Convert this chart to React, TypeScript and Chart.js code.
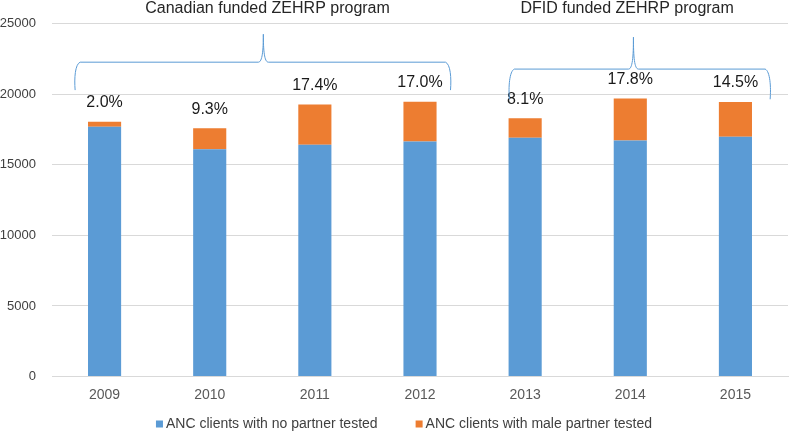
import React, { useEffect, useRef } from "react";
import { Chart, registerables } from "chart.js";

Chart.register(...registerables);

const years = ["2009", "2010", "2011", "2012", "2013", "2014", "2015"];
const noPartner = [17700, 16100, 16420, 16650, 16930, 16720, 17000];
const malePartner = [355, 1500, 2860, 2830, 1370, 2980, 2465];
const seriesNames = ["ANC clients with no partner tested", "ANC clients with male partner tested"];
const seriesColors = ["#5B9BD5", "#ED7D31"];
const yTicks = [0, 5000, 10000, 15000, 20000, 25000];

// Program brackets: [label, first category, last category]
const programs: [string, number, number][] = [
  ["Canadian funded ZEHRP program", 0, 3],
  ["DFID funded ZEHRP program", 4, 6],
];

const FONT = "'Liberation Sans', Arial, sans-serif";

const annotations = {
  id: "annotations",
  afterDatasetsDraw(chart: any) {
    const { ctx, scales } = chart;
    const x = scales.x;
    const y = scales.y;
    const step = x.getPixelForValue(1) - x.getPixelForValue(0);
    ctx.save();
    // percentage labels
    ctx.font = `16px ${FONT}`;
    ctx.fillStyle = "#1a1a1a";
    ctx.textAlign = "center";
    ctx.textBaseline = "middle";
    for (let i = 0; i < years.length; i++) {
      const pct = ((malePartner[i] / noPartner[i]) * 100).toFixed(1) + "%";
      const px = x.getPixelForValue(i);
      const py = y.getPixelForValue(noPartner[i] + malePartner[i]) - 19;
      ctx.fillText(pct, px, py);
    }
    // braces and titles
    const braceDefs = [
      { l: -0.28, r: 0.29, m: 1.51, yH: 22280, yE: 20300, yT: 24260, t: 1.55 },
      { l: -0.15, r: 0.33, m: 1.03, yH: 21790, yE: 19650, yT: 24050, t: 0.97 },
    ];
    programs.forEach(([label, a, b], k) => {
      const d = braceDefs[k];
      const x0 = x.getPixelForValue(a) + d.l * step;
      const x1 = x.getPixelForValue(b) + d.r * step;
      const xm = x.getPixelForValue(a) + d.m * step;
      const yH = y.getPixelForValue(d.yH);
      const yE = y.getPixelForValue(d.yE);
      const yT = y.getPixelForValue(d.yT);
      const r = 5;
      ctx.beginPath();
      ctx.strokeStyle = "#5B9BD5";
      ctx.lineWidth = 1;
      ctx.moveTo(x0, yE);
      ctx.bezierCurveTo(x0 - 1, yE - 12, x0, yH + 2, x0 + r, yH);
      ctx.lineTo(xm - r, yH);
      ctx.bezierCurveTo(xm - 1, yH, xm, yH - 12, xm, yT);
      ctx.bezierCurveTo(xm, yH - 12, xm + 1, yH, xm + r, yH);
      ctx.lineTo(x1 - r, yH);
      ctx.bezierCurveTo(x1, yH + 2, x1 + 1, yE - 12, x1, yE);
      ctx.stroke();
      ctx.font = `16px ${FONT}`;
      ctx.fillStyle = "#262626";
      ctx.fillText(label, x.getPixelForValue(a) + d.t * step, 9);
    });
    // legend
    ctx.font = `14px ${FONT}`;
    ctx.textAlign = "left";
    const box = 7, gap = 3, sep = 38;
    const widths = chart.data.datasets.map((ds: any) => box + gap + ctx.measureText(ds.label).width);
    const total = widths.reduce((s: number, w: number) => s + w, 0) + sep * (widths.length - 1);
    let lx = chart.width / 2 + 7 - total / 2;
    const ly = chart.height - 8;
    chart.data.datasets.forEach((ds: any, i: number) => {
      ctx.fillStyle = ds.backgroundColor;
      ctx.fillRect(lx, ly - box / 2, box, box);
      ctx.fillStyle = "#404040";
      ctx.fillText(ds.label, lx + box + gap, ly);
      lx += widths[i] + sep;
    });
    ctx.restore();
  },
};

export default function App() {
  const ref = useRef<HTMLCanvasElement>(null);
  useEffect(() => {
    const chart = new Chart(ref.current!, {
      type: "bar",
      data: {
        labels: years,
        datasets: [
          { label: seriesNames[0], data: noPartner, backgroundColor: seriesColors[0] },
          { label: seriesNames[1], data: malePartner, backgroundColor: seriesColors[1] },
        ],
      },
      options: {
        animation: false,
        responsive: false,
        maintainAspectRatio: false,
        layout: { padding: { top: 22, right: 6, left: 0, bottom: 28.5 } },
        datasets: { bar: { barPercentage: 0.315, categoryPercentage: 1 } },
        scales: {
          x: {
            stacked: true,
            grid: { display: false, drawTicks: false },
            border: { color: "#d9d9d9" },
            ticks: { color: "#595959", font: { family: FONT, size: 14 }, padding: 10 },
            afterFit: (s: any) => {
              s.height = 27;
            },
          },
          y: {
            stacked: true,
            min: 0,
            max: 25000,
            afterBuildTicks: (s: any) => {
              s.ticks = yTicks.map((v) => ({ value: v }));
            },
            afterFit: (s: any) => {
              s.width = 52;
            },
            grid: { color: "#d9d9d9", drawTicks: false },
            border: { display: false },
            ticks: {
              color: "#404040",
              font: { family: FONT, size: 13 },
              padding: 16,
              callback: (v: any) => String(v),
            },
          },
        },
        plugins: {
          tooltip: { enabled: false },
          legend: { display: false },
        },
      },
      plugins: [annotations],
    });
    return () => chart.destroy();
  }, []);
  return (
    <div style={{ position: "fixed", left: 0, top: 0, width: 794, height: 432 }}>
      <canvas ref={ref} width={794} height={432} style={{ width: 794, height: 432 }} />
    </div>
  );
}
